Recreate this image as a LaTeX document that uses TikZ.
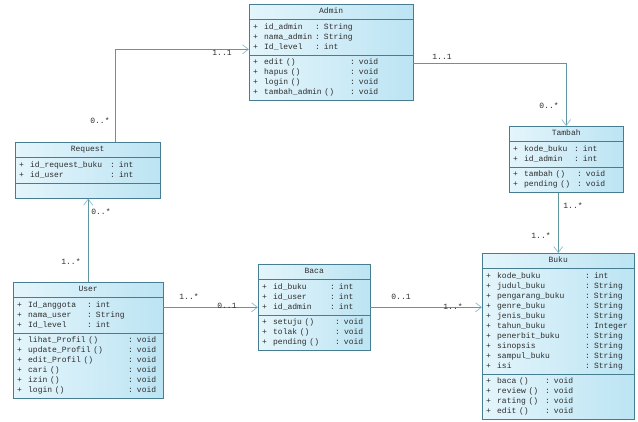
\documentclass[tikz,border=0pt]{standalone}
\usepackage{fontspec}
\setmonofont{Liberation Mono}
\definecolor{clslight}{RGB}{228,245,251}
\definecolor{clsdark}{RGB}{188,228,243}
\definecolor{clsdraw}{RGB}{70,125,145}
\definecolor{linkc}{RGB}{95,150,160}
\definecolor{tipc}{RGB}{125,180,205}
\definecolor{txt}{RGB}{45,45,45}
\usetikzlibrary{shapes.multipart,arrows.meta,calc}

% class name, centred over the whole box
\newcommand{\clsname}[1]{\hbox to \hsize{\hss#1\strut\hss}}
% one compartment of a class: + | name | : type
\newcommand{\members}[2]{%
  \begin{tabular}{@{}p{11pt}@{}p{#1}@{}l@{}}#2\end{tabular}}

\begin{document}
\begin{tikzpicture}[
  x=1pt, y=-1pt,
  cls/.style={
    rectangle split, rectangle split parts=3,
    draw=clsdraw, left color=clslight, right color=clsdark,
    text width=#1, inner xsep=4pt, inner ysep=2.5pt,
    anchor=north west, align=left, text=txt,
    font=\ttfamily\fontsize{8}{10}\selectfont
  },
  link/.style={draw=linkc, line width=0.6pt,
    -{Straight Barb[length=6pt,width=9pt,color=tipc]}},
  mult/.style={font=\ttfamily\fontsize{8}{10}\selectfont, text=txt, inner sep=1pt}
]
\path[use as bounding box, fill=white] (0,0) rectangle (638,421);

% classes
\node[cls=156pt] (adm) at (249,4) {\clsname{Admin}
  \nodepart{two}\members{51pt}{
    + & id\_admin & : String\\
    + & nama\_admin & : String\\
    + & Id\_level & : int}
  \nodepart{three}\members{86pt}{
    + & edit () & : void\\
    + & hapus () & : void\\
    + & login () & : void\\
    + & tambah\_admin () & : void}};

\node[cls=137pt] (req) at (15,142) {\clsname{Request}
  \nodepart{two}\members{80pt}{
    + & id\_request\_buku & : int\\
    + & id\_user & : int}
  \nodepart{three}\strut};

\node[cls=142pt] (usr) at (13,282) {\clsname{User}
  \nodepart{two}\members{59pt}{
    + & Id\_anggota & : int\\
    + & nama\_user & : String\\
    + & Id\_level & : int}
  \nodepart{three}\members{100pt}{
    + & lihat\_Profil () & : void\\
    + & update\_Profil () & : void\\
    + & edit\_Profil () & : void\\
    + & cari () & : void\\
    + & izin () & : void\\
    + & login () & : void}};

\node[cls=104pt] (baca) at (258,264) {\clsname{Baca}
  \nodepart{two}\members{57pt}{
    + & id\_buku & : int\\
    + & id\_user & : int\\
    + & id\_admin & : int}
  \nodepart{three}\members{62pt}{
    + & setuju () & : void\\
    + & tolak () & : void\\
    + & pending () & : void}};

\node[cls=106pt] (tam) at (509,126) {\clsname{Tambah}
  \nodepart{two}\members{50pt}{
    + & kode\_buku & : int\\
    + & id\_admin & : int}
  \nodepart{three}\members{53pt}{
    + & tambah () & : void\\
    + & pending () & : void}};

\node[cls=144pt] (buku) at (482,253) {\clsname{Buku}
  \nodepart{two}\members{88pt}{
    + & kode\_buku & : int\\
    + & judul\_buku & : String\\
    + & pengarang\_buku & : String\\
    + & genre\_buku & : String\\
    + & jenis\_buku & : String\\
    + & tahun\_buku & : Integer\\
    + & penerbit\_buku & : String\\
    + & sinopsis & : String\\
    + & sampul\_buku & : String\\
    + & isi & : String}
  \nodepart{three}\members{48pt}{
    + & baca () & : void\\
    + & review () & : void\\
    + & rating () & : void\\
    + & edit () & : void}};

% associations
\draw[link] ([xshift=28pt]req.north) |- ([yshift=3pt]adm.west);
\draw[link] (usr.north) -- (usr.north |- req.south);
\draw[link] (usr.east |- baca.west) -- (baca.west);
\draw[link] (baca.east) -- (baca.east -| buku.west);
\draw[link] ([yshift=-11pt]adm.east) -| (tam.north);
\draw[link] (buku.north |- tam.south) -- (buku.north);

% multiplicities
\node[mult] (m1) at (100,121) {0..*};
\node[mult] (m2) at (222,53) {1..1};
\node[mult] (m3) at (101,212) {0..*};
\node[mult] (m4) at (71,262) {1..*};
\node[mult] (m5) at (189,297) {1..*};
\node[mult] (m6) at (227,306) {0..1};
\node[mult] (m7) at (401,297) {0..1};
\node[mult] (m8) at (453,307) {1..*};
\node[mult] (m9) at (442,57) {1..1};
\node[mult] (m10) at (549,106) {0..*};
\node[mult] (m11) at (573,206) {1..*};
\node[mult] (m12) at (541,236) {1..*};
\end{tikzpicture}
\end{document}
